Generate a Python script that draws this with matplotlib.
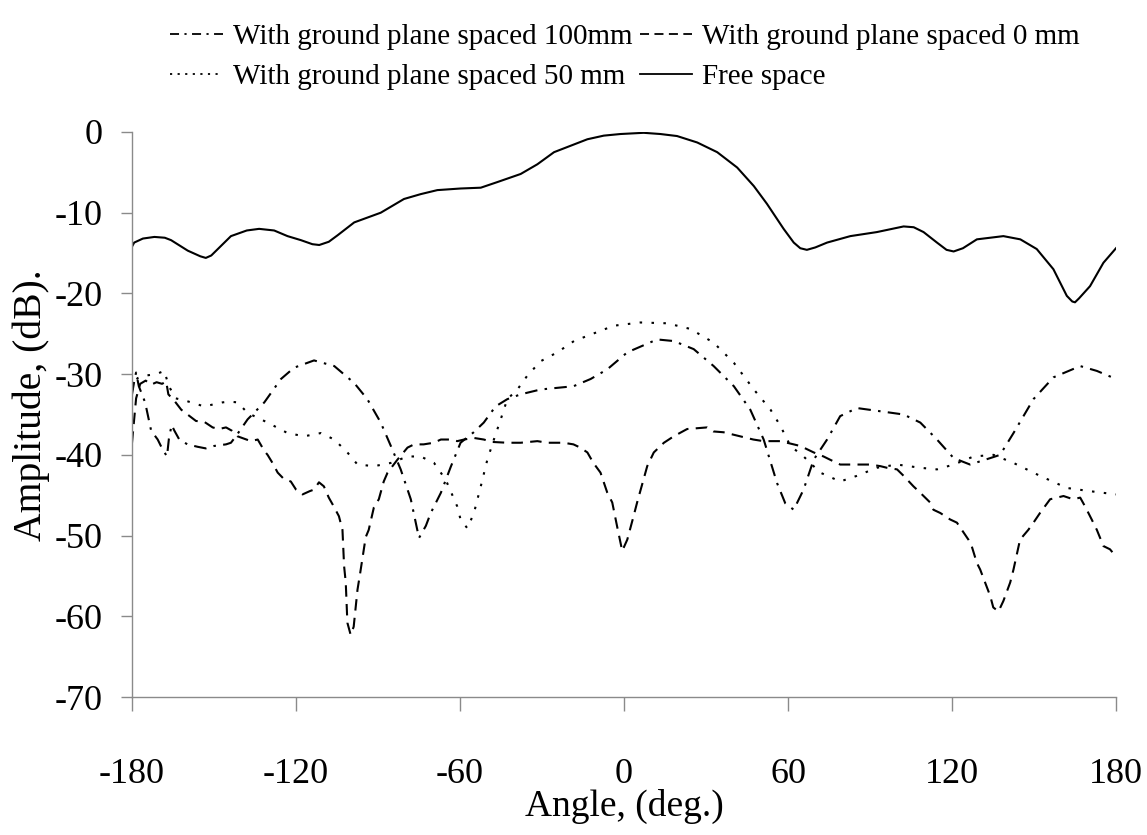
import matplotlib
matplotlib.use("Agg")
import matplotlib.pyplot as plt
from matplotlib.lines import Line2D

plt.rcParams['font.family'] = ['Liberation Serif', 'DejaVu Serif']
plt.rcParams['axes.unicode_minus'] = False

# ---- measured radiation patterns (angle in degrees, amplitude in dB) ----
free_angle = [-180, -179.2, -176, -171.8, -168, -165.7, -159.6, -155, -153, -151,
              -148, -143.8, -138, -133.5, -128, -123.1, -118.2, -114, -111.5, -108,
              -104.8, -98.7, -89, -80.5, -74.4, -68.3, -59.8, -52.4, -46.3, -37.8,
              -31.7, -25.6, -19.5, -13.4, -7.4, -1.3, 7.2, 13.3, 19.4, 26.8,
              34.1, 41.4, 47.5, 52.3, 58.4, 62.1, 64.5, 66.9, 70, 74.3,
              82.8, 92.5, 102.3, 106, 109.6, 114.5, 118, 120.6, 124, 129.1,
              138.8, 145, 151, 157.1, 162, 164, 165, 166.5, 170.5, 175.4,
              180]
free_db = [-14.2, -13.7, -13.2, -13.0, -13.1, -13.4, -14.7, -15.4, -15.6, -15.3,
           -14.3, -12.9, -12.2, -12.0, -12.2, -12.9, -13.4, -13.9, -14.0, -13.6,
           -12.8, -11.2, -10.0, -8.3, -7.7, -7.2, -7.0, -6.9, -6.2, -5.2,
           -4.0, -2.5, -1.7, -0.9, -0.45, -0.25, -0.1, -0.25, -0.5, -1.3,
           -2.5, -4.4, -6.7, -8.9, -12.0, -13.7, -14.4, -14.6, -14.3, -13.7,
           -12.9, -12.4, -11.7, -11.8, -12.4, -13.7, -14.6, -14.8, -14.4, -13.3,
           -12.9, -13.3, -14.5, -17.0, -20.3, -21.0, -21.1, -20.6, -19.1, -16.2,
           -14.4]

gp100_angle = [-180, -179, -178.5, -177.5, -175.2, -173, -170.6, -169, -167.2, -166.5,
               -165.5, -164.5, -162.7, -159.7, -156, -153, -150, -145.6, -143.8, -142,
               -137.7, -131.6, -125.5, -120.7, -113.4, -106, -98.7, -93.9, -89, -85.3,
               -81.7, -78, -75, -72.5, -70.7, -67, -63.4, -59.8, -55, -51.3,
               -47, -42.7, -37.8, -30.5, -18.5, -12.2, -6.1, 1.2, 12.1, 18.2,
               25.5, 32.8, 40.2, 46.2, 51.1, 56, 59, 62.1, 65.7, 69.4,
               74.3, 79.1, 85.2, 93.8, 102.3, 108.4, 114.5, 120.6, 126.6, 134,
               137.6, 142.5, 149.8, 157.1, 166.9, 173, 180]
gp100_db = [-32.5, -30.5, -29.8, -31.5, -33.5, -37.0, -38.1, -39.2, -40.2, -38.0,
            -36.3, -37.0, -38.1, -38.7, -39.0, -39.2, -38.9, -38.7, -38.5, -37.7,
            -35.6, -33.5, -30.6, -29.2, -28.3, -29.0, -31.1, -33.1, -36.0, -38.9,
            -41.8, -45.5, -50.3, -48.8, -47.2, -44.7, -41.5, -38.5, -37.2, -36.0,
            -34.0, -33.1, -32.5, -31.9, -31.5, -30.6, -29.4, -27.3, -25.7, -25.9,
            -26.9, -29.0, -31.5, -34.4, -38.1, -43.5, -46.0, -46.8, -44.3, -40.6,
            -38.1, -35.2, -34.2, -34.6, -35.0, -36.0, -38.1, -40.4, -41.2, -40.4,
            -40.0, -37.3, -33.1, -30.4, -29.0, -29.6, -30.6]

gp0_angle = [-180, -179.3, -178.5, -177, -175, -173, -171, -169, -167.5, -166.7,
             -164.5, -162, -159.7, -156.6, -153.6, -150.5, -148.2, -145.6, -143.5, -141.4,
             -136.5, -134, -131.6, -130.4, -128.6, -126.7, -124.4, -121.9, -120, -117.6,
             -115, -113.4, -111.6, -109.8, -108, -106.5, -104.3, -103, -102.4, -101.8,
             -101.2, -100, -98.9, -97.5, -96.5, -94.5, -93.4, -91.5, -89.7, -87.9,
             -86.5, -82.9, -79.2, -76.8, -73.3, -69.6, -67, -63.4, -61, -58.5,
             -55, -51.3, -48.2, -42.7, -37.8, -31.7, -28.1, -25.7, -22.1, -18.5,
             -16, -13.4, -11.2, -8.6, -6.1, -4.3, -2.5, -0.65, 1.2, 3.5,
             4.8, 7.2, 8.5, 10.9, 14.6, 18.2, 23.1, 30.4, 32.7, 36.4,
             40, 43.7, 47.3, 51, 53.5, 57.2, 59.6, 62, 64.5, 69.4,
             73, 76.6, 79.1, 81.6, 86.5, 90.1, 93.8, 96.2, 99.9, 102.3,
             105.9, 108.4, 112, 113.2, 115.7, 119.3, 121.8, 123.6, 126, 127.2,
             129.1, 130.3, 134, 135.1, 137, 138.8, 141.3, 142.5, 144.9, 147.9,
             149.8, 152.2, 155.9, 158.3, 160.8, 164.3, 166.9, 168.7, 171.1, 173,
             175.4, 177.8, 180]
gp0_db = [-38.5, -36.0, -33.0, -31.2, -30.8, -31.3, -31.0, -31.2, -30.9, -32.5,
          -33.3, -34.4, -35.0, -35.8, -35.9, -36.6, -36.8, -36.6, -37.0, -37.7,
          -38.3, -38.1, -39.5, -40.0, -41.0, -42.2, -43.0, -43.3, -44.3, -44.9,
          -44.5, -44.3, -43.4, -43.9, -45.3, -46.2, -47.6, -49.3, -53.8, -55.8,
          -60.8, -62.3, -61.3, -56.7, -54.6, -50.2, -49.3, -46.5, -45.5, -43.3,
          -42.2, -40.6, -39.1, -38.7, -38.7, -38.5, -38.1, -38.1, -38.3, -38.1,
          -37.9, -38.1, -38.4, -38.5, -38.5, -38.3, -38.5, -38.5, -38.5, -38.7,
          -39.1, -39.7, -41.0, -42.2, -44.7, -45.9, -48.9, -51.9, -50.5, -47.6,
          -45.9, -43.0, -41.4, -39.7, -38.5, -37.7, -36.8, -36.6, -37.1, -37.2,
          -37.5, -37.8, -38.1, -38.3, -38.3, -38.3, -38.5, -38.7, -38.9, -39.7,
          -40.2, -40.8, -41.2, -41.2, -41.2, -41.2, -41.4, -41.6, -41.8, -42.6,
          -43.9, -44.7, -45.9, -46.8, -47.2, -48.0, -48.4, -49.3, -50.5, -51.3,
          -53.4, -54.2, -57.5, -58.9, -59.4, -58.1, -55.8, -54.2, -50.5, -49.3,
          -48.4, -47.2, -45.5, -45.3, -45.1, -45.5, -45.3, -46.4, -48.0, -49.3,
          -51.3, -51.7, -52.6]

gp50_angle = [-180, -178, -175.5, -171.2, -168.2, -166.5, -164, -160.3, -153.6, -146.9,
              -144.4, -141.4, -137.7, -135.3, -130.4, -123.1, -117, -110.9, -106, -101.2,
              -97.5, -91.4, -85.3, -79.2, -74.4, -69.5, -65.2, -61, -59.8, -57.3,
              -54.9, -52.4, -50, -47.6, -45.1, -42.7, -39, -35.4, -30.5, -24.4,
              -18.3, -12.2, -3.7, 6, 15.8, 24.3, 32.8, 40.2, 47.5, 53.6,
              57.2, 60.9, 65.7, 71.8, 79.1, 85.2, 92.5, 99.9, 108.4, 114.5,
              120.6, 127.9, 135.2, 142.5, 152.2, 162, 170.5, 180]
gp50_db = [-32.0, -30.5, -30.2, -30.0, -29.6, -31.5, -33.0, -33.3, -34.0, -33.5,
           -33.4, -33.5, -34.8, -35.2, -36.0, -37.3, -37.7, -37.3, -38.1, -39.7,
           -41.2, -41.4, -41.0, -40.2, -40.2, -41.0, -43.1, -46.4, -48.0, -49.1,
           -47.2, -43.9, -40.6, -38.1, -35.6, -33.1, -31.9, -30.2, -28.4, -27.3,
           -25.9, -25.1, -24.0, -23.6, -23.7, -24.4, -26.1, -28.6, -31.9, -34.4,
           -36.4, -38.9, -40.2, -42.2, -43.3, -42.6, -41.6, -41.2, -41.6, -41.8,
           -41.2, -40.2, -40.0, -41.0, -42.6, -44.1, -44.5, -44.9]

x_ticks = [-180, -120, -60, 0, 60, 120, 180]
y_ticks = [0, -10, -20, -30, -40, -50, -60, -70]

labels = ['With ground plane spaced 100mm', 'With ground plane spaced 0 mm',
          'With ground plane spaced 50 mm', 'Free space']

# ---- figure ----
fig = plt.figure(figsize=(11.47, 8.35), dpi=100)
ax = fig.add_axes([132 / 1147, 1 - 697 / 835, 984 / 1147, 565 / 835])

lw = 1.5
s_dashdot = (0, (6, 3.5, 1.2, 3.5))
s_dash = (0, (5.5, 3.5))
s_dot = (0, (1.2, 4.5))

ax.plot(gp100_angle, gp100_db, color='black', lw=lw, linestyle=s_dashdot)
ax.plot(gp0_angle, gp0_db, color='black', lw=lw, linestyle=s_dash)
ax.plot(gp50_angle, gp50_db, color='black', lw=lw, linestyle=s_dot)
ax.plot(free_angle, free_db, color='black', lw=lw, linestyle='-')

ax.set_xlim(-180, 180)
ax.set_ylim(-70, 0)
ax.set_xticks(x_ticks)
ax.set_yticks(y_ticks)
ax.set_xticklabels([str(v) for v in x_ticks])
ax.set_yticklabels([str(v) for v in y_ticks])

for side in ('top', 'right'):
    ax.spines[side].set_visible(False)
for side in ('left', 'bottom'):
    ax.spines[side].set_color('#8a8a8a')
    ax.spines[side].set_linewidth(1.0)

ax.tick_params(axis='both', which='major', direction='out', color='#8a8a8a',
               width=1.0, labelsize=26, labelcolor='black')
ax.tick_params(axis='x', length=10, pad=34)
ax.tick_params(axis='y', length=8, pad=13)

ax.set_xlabel('Angle, (deg.)', fontsize=27, va='center')
ax.xaxis.set_label_coords(0.5, (697 - 806) / 565)
ax.set_ylabel('Amplitude, (dB).', fontsize=28.5, va='center')
ax.yaxis.set_label_coords((31 - 132) / 984, (697 - 405) / 565)

# legend in two columns above the axes (column-major fill)
handles = [
    Line2D([], [], color='black', lw=1.3, linestyle=(0, (5, 3, 1.2, 3))),
    Line2D([], [], color='black', lw=1.3, linestyle=(0, (1.2, 3))),
    Line2D([], [], color='black', lw=1.3, linestyle=(0, (5, 3))),
    Line2D([], [], color='black', lw=1.3, linestyle='-'),
]
fig.legend(handles, [labels[0], labels[2], labels[1], labels[3]],
           ncol=2, frameon=False, fontsize=21,
           loc='upper left', bbox_to_anchor=(170 / 1147, 1 - 24 / 835),
           handlelength=1.8, handletextpad=0.35, columnspacing=0.25,
           labelspacing=0.45, borderaxespad=0, borderpad=0)

fig.savefig('out.png', dpi=100, facecolor='white')
